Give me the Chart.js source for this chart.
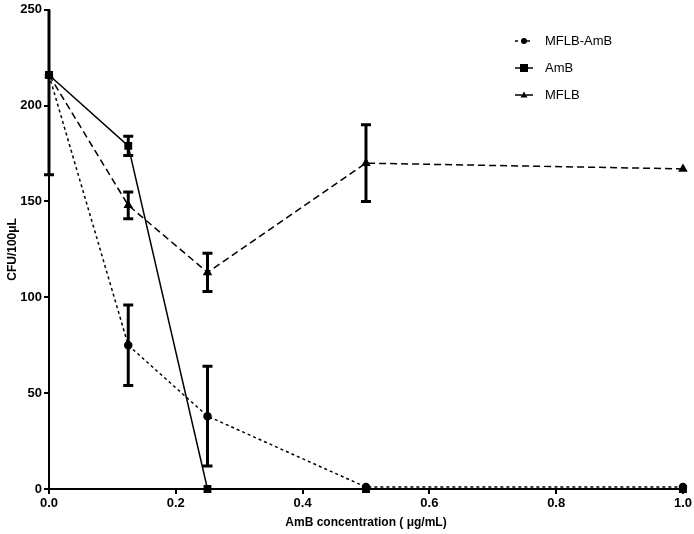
<!DOCTYPE html>
<html>
<head>
<meta charset="utf-8">
<script src="https://cdn.jsdelivr.net/npm/chart.js@4/dist/chart.umd.min.js"></script>
<style>
  body { margin: 0; background: #fff; }
  #wrap { width: 694px; height: 534px; }
</style>
</head>
<body>
<div id="wrap"><canvas id="c"></canvas></div>
<script>
const concentrations = [0, 0.125, 0.25, 0.5, 1.0];
const mflbAmb = [216, 75, 38, 1, 1];
const mflbAmbErr = [52, 21, 26, 0, 0];
const amb = [216, 179, 0, 0, 0];
const ambErr = [0, 5, 0, 0, 0];
const mflb = [216, 148, 113, 170, 167];
const mflbErr = [0, 7, 10, 20, 0];
const xTicks = [0, 0.2, 0.4, 0.6, 0.8, 1.0];
const yTicks = [0, 50, 100, 150, 200, 250];

const toPoints = ys => concentrations.map((x, i) => ({ x: x, y: ys[i] }));
const font = { family: 'Liberation Sans, Arial, sans-serif', size: 13, weight: 'bold' };
const titleFont = { family: 'Liberation Sans, Arial, sans-serif', size: 12, weight: 'bold' };

// draws the vertical error bars with caps
const errorBars = {
  id: 'errorBars',
  afterDatasetsDraw(chart) {
    const ctx = chart.ctx, xs = chart.scales.x, ys = chart.scales.y, area = chart.chartArea;
    ctx.save();
    ctx.beginPath();
    ctx.rect(area.left - 10, area.top, area.right - area.left + 20, area.bottom - area.top);
    ctx.clip();
    ctx.strokeStyle = '#000';
    ctx.lineWidth = 3;
    chart.data.datasets.forEach(ds => {
      ds.data.forEach((p, i) => {
        const e = ds.errors[i];
        if (!e) return;
        const px = xs.getPixelForValue(p.x);
        const top = ys.getPixelForValue(p.y + e), bot = ys.getPixelForValue(p.y - e);
        ctx.beginPath();
        ctx.moveTo(px, top); ctx.lineTo(px, bot);
        ctx.moveTo(px - 5, top); ctx.lineTo(px + 5, top);
        ctx.moveTo(px - 5, bot); ctx.lineTo(px + 5, bot);
        ctx.stroke();
      });
    });
    ctx.restore();
  }
};

// legend inside the plot, top right
const sideLegend = {
  id: 'sideLegend',
  afterDraw(chart) {
    const ctx = chart.ctx;
    ctx.save();
    ctx.font = '13px Liberation Sans, Arial, sans-serif';
    ctx.fillStyle = '#000';
    ctx.textBaseline = 'middle';
    chart.data.datasets.forEach((ds, i) => {
      const y = 41 + i * 27, x0 = 515, x1 = 533;
      ctx.strokeStyle = '#000';
      ctx.lineWidth = 1.5;
      ctx.setLineDash(ds.borderDash);
      ctx.beginPath(); ctx.moveTo(x0, y); ctx.lineTo(x1, y); ctx.stroke();
      ctx.setLineDash([]);
      const c = (x0 + x1) / 2;
      ctx.beginPath();
      if (ds.pointStyle === 'circle') ctx.arc(c, y, 3, 0, Math.PI * 2);
      else if (ds.pointStyle === 'rect') ctx.rect(c - 4, y - 4, 8, 8);
      else { ctx.moveTo(c, y - 3.5); ctx.lineTo(c + 3.5, y + 2.5); ctx.lineTo(c - 3.5, y + 2.5); ctx.closePath(); }
      ctx.fill();
      ctx.fillText(ds.label, 545, y);
    });
    ctx.restore();
  }
};

new Chart(document.getElementById('c'), {
  type: 'line',
  data: {
    datasets: [
      { label: 'MFLB-AmB', data: toPoints(mflbAmb), errors: mflbAmbErr, borderDash: [3, 3], pointStyle: 'circle', pointRadius: 3.5 },
      { label: 'AmB', data: toPoints(amb), errors: ambErr, borderDash: [], pointStyle: 'rect', pointRadius: 4.5 },
      { label: 'MFLB', data: toPoints(mflb), errors: mflbErr, borderDash: [7, 4], pointStyle: 'triangle', pointRadius: 4 }
    ].map(d => Object.assign({
      borderColor: '#000', backgroundColor: '#000', pointBackgroundColor: '#000',
      pointBorderColor: '#000', borderWidth: 1.5, tension: 0, clip: false
    }, d))
  },
  options: {
    responsive: true,
    maintainAspectRatio: false,
    animation: false,
    layout: { padding: { top: 5, right: 11, left: 0, bottom: 0 } },
    plugins: { legend: { display: false }, tooltip: { enabled: false } },
    scales: {
      x: {
        type: 'linear', min: 0, max: 1,
        afterBuildTicks: s => { s.ticks = xTicks.map(v => ({ value: v })); },
        afterFit: s => { s.height = 45; },
        ticks: { color: '#000', font: font, callback: v => v.toFixed(1), padding: 2, maxRotation: 0 },
        grid: { drawOnChartArea: false, color: '#000', lineWidth: 2, tickLength: 5 },
        border: { color: '#000', width: 2 },
        title: { display: true, text: 'AmB concentration ( μg/mL)', color: '#000', font: titleFont, padding: { top: 6, bottom: 4 } }
      },
      y: {
        min: 0, max: 250,
        afterBuildTicks: s => { s.ticks = yTicks.map(v => ({ value: v })); },
        afterFit: s => { s.width = 49; },
        ticks: { color: '#000', font: font, padding: 2 },
        grid: { drawOnChartArea: false, color: '#000', lineWidth: 2, tickLength: 5 },
        border: { color: '#000', width: 2 },
        title: { display: true, text: 'CFU/100μL', color: '#000', font: titleFont, padding: { top: 5, bottom: 0 } }
      }
    }
  },
  plugins: [errorBars, sideLegend]
});
</script>
</body>
</html>
